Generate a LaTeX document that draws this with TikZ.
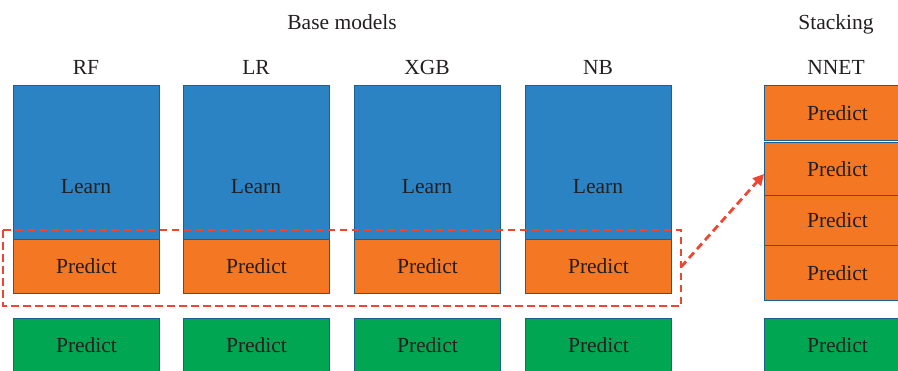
\documentclass[tikz,border=0pt]{standalone}
\usepackage{fontspec}
\setmainfont{Liberation Serif}
\usetikzlibrary{arrows.meta}
\definecolor{learnblue}{HTML}{2B83C3}
\definecolor{predorange}{HTML}{F47724}
\definecolor{predgreen}{HTML}{00A651}
\definecolor{edgeblue}{HTML}{1D5F8E}
\definecolor{dashred}{HTML}{EE4631}
\definecolor{inktext}{HTML}{231F20}
\tikzset{
  txt/.style={text=inktext, font=\fontsize{21.5}{25}\selectfont},
  cell/.style={txt, draw=edgeblue, line width=1pt, anchor=north west, inner sep=0pt},
  learnbox/.style={cell, fill=learnblue, minimum width=146pt, minimum height=154pt},
  orangebox/.style={cell, fill=predorange, minimum width=146pt, minimum height=54pt},
  greenbox/.style={cell, fill=predgreen, minimum width=146pt, minimum height=53pt},
  headlabel/.style={txt, anchor=base},
  redline/.style={draw=dashred, line width=2.8pt, dash pattern=on 7.5pt off 4.5pt}
}
\begin{document}
\begin{tikzpicture}[x=1pt, y=-1pt]
\useasboundingbox (0,0) rectangle (898,370);
\begin{scope}
\clip (0,0) rectangle (898,370);

\node[headlabel] (base) at (342,29) {Base models};
\node[headlabel] (stack) at (836,29) {Stacking};

% base model columns
\foreach \name/\lab/\x in {rf/RF/13, lr/LR/183, xgb/XGB/354, nb/NB/525} {
  \node[headlabel] (\name-head) at (\x+73,74) {\lab};
  \node[learnbox] (\name-learn) at (\x,85) {};
  \node[txt] (\name-learntext) at (\x+73,187) {Learn};
  \node[orangebox] (\name-pred) at (\x,239) {Predict};
  \node[greenbox] (\name-test) at (\x,318) {Predict};
}

% stacking column (runs past the right edge)
\node[headlabel] (nnet-head) at (836,74) {NNET};
\node[orangebox, minimum height=54.5pt] (nnet-a) at (764,85) {Predict};
\node[orangebox, minimum height=53pt] (nnet-b) at (764,142) {Predict};
\node[orangebox, minimum height=50pt] (nnet-c) at (764,195) {Predict};
\node[orangebox, minimum height=55pt] (nnet-d) at (764,245) {Predict};
\node[greenbox] (nnet-test) at (764,318) {Predict};

% dashed frame round the base-model predictions
\coordinate (frame-nw) at (3,230);
\coordinate (frame-se) at (681,306);
\draw[redline] (frame-nw) rectangle (frame-se);

% arrow feeding the stacked learner
\coordinate (arrow-start) at (681,267);
\coordinate (arrow-end) at (nnet-b.west |- 0,174);
\draw[redline, -{Triangle[length=11pt, width=11pt, fill=dashred]}] (arrow-start) -- (arrow-end);
\end{scope}
\end{tikzpicture}
\end{document}
